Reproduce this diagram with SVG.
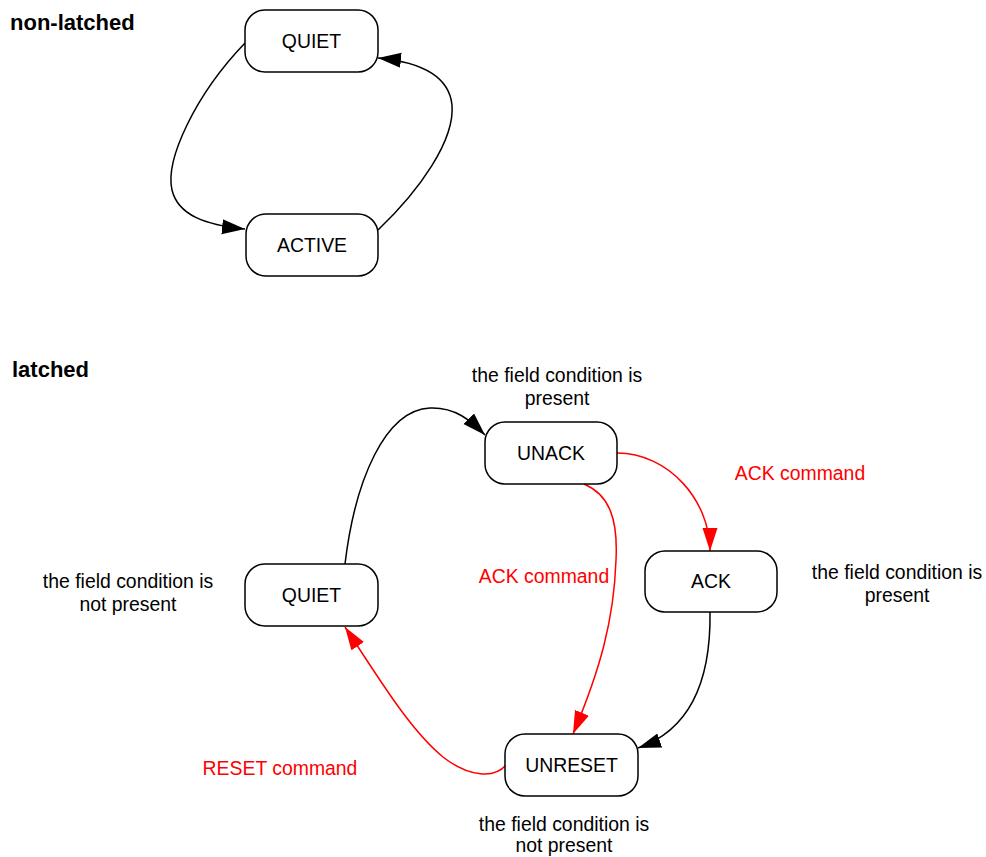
<svg xmlns="http://www.w3.org/2000/svg" width="986" height="857" viewBox="0 0 986 857">
<style>
  .node rect { fill: #ffffff; stroke: #000000; stroke-width: 1.5; }
  text { font-family: "Liberation Sans", Arial, sans-serif; font-size: 19.4px; fill: #000000; }
  .lbl { text-anchor: middle; }
  .title { font-weight: bold; font-size: 22px; }
  .red { fill: #ff0000; }
  .edge { fill: none; stroke-width: 1.5; }
  .blk { stroke: #000000; marker-end: url(#arrowBlack); }
  .rd { stroke: #ff0000; marker-end: url(#arrowRed); }
</style>
<defs>
  <marker id="arrowBlack" markerUnits="userSpaceOnUse" markerWidth="25" markerHeight="16" refX="23" refY="7.5" orient="auto">
    <path d="M0,0 L23,7.5 L0,15 Z" fill="#000000"/>
  </marker>
  <marker id="arrowRed" markerUnits="userSpaceOnUse" markerWidth="25" markerHeight="16" refX="23" refY="7.5" orient="auto">
    <path d="M0,0 L23,7.5 L0,15 Z" fill="#ff0000"/>
  </marker>
</defs>
<rect width="986" height="857" fill="#ffffff"/>

<text class="title" x="10" y="30">non-latched</text>
<text class="title" x="12" y="377">latched</text>

<g id="connectors">
  <path class="edge blk" d="M245,43 C195,95 165,160 172,190 C178,215 205,225 245,229"/>
  <path class="edge blk" d="M378,230 C420,190 455,140 452,105 C449,75 420,62 378,58"/>
  <path class="edge blk" d="M345,564 C355,480 385,410 430,408 C455,407 470,420 485,435"/>
  <path class="edge rd" d="M617,453 C668,453 710,500 710,551"/>
  <path class="edge rd" d="M584,484 C610,495 618,520 616,560 C614,620 600,670 573,734"/>
  <path class="edge blk" d="M710,612 C711,680 690,730 638,748"/>
  <path class="edge rd" d="M506,765 C495,778 470,778 443,757 C410,730 380,680 345,627"/>
</g>

<g id="nl-quiet" class="node">
  <rect x="245" y="10" width="133" height="62" rx="20" ry="20"/>
  <text class="lbl" x="311.5" y="48">QUIET</text>
</g>
<g id="nl-active" class="node">
  <rect x="246" y="214" width="132" height="62" rx="20" ry="20"/>
  <text class="lbl" x="312" y="252">ACTIVE</text>
</g>
<g id="unack" class="node">
  <rect x="485" y="422" width="132" height="62" rx="20" ry="20"/>
  <text class="lbl" x="551" y="460">UNACK</text>
</g>
<g id="ack" class="node">
  <rect x="645" y="551" width="132" height="61" rx="20" ry="20"/>
  <text class="lbl" x="711" y="588">ACK</text>
</g>
<g id="l-quiet" class="node">
  <rect x="245" y="564" width="133" height="62" rx="20" ry="20"/>
  <text class="lbl" x="311.5" y="602">QUIET</text>
</g>
<g id="unreset" class="node">
  <rect x="505" y="734" width="133" height="62" rx="20" ry="20"/>
  <text class="lbl" x="571.5" y="772">UNRESET</text>
</g>

<g id="labels">
  <text class="lbl" x="557" y="382">the field condition is</text>
  <text class="lbl" x="557" y="405">present</text>
  <text class="lbl" x="128" y="588">the field condition is</text>
  <text class="lbl" x="128" y="611">not present</text>
  <text class="lbl" x="897" y="579">the field condition is</text>
  <text class="lbl" x="897" y="602">present</text>
  <text class="lbl" x="564" y="831">the field condition is</text>
  <text class="lbl" x="564" y="852">not present</text>
  <text class="lbl red" x="800" y="480">ACK command</text>
  <text class="lbl red" x="544" y="583">ACK command</text>
  <text class="lbl red" x="280" y="775">RESET command</text>
</g>
</svg>
